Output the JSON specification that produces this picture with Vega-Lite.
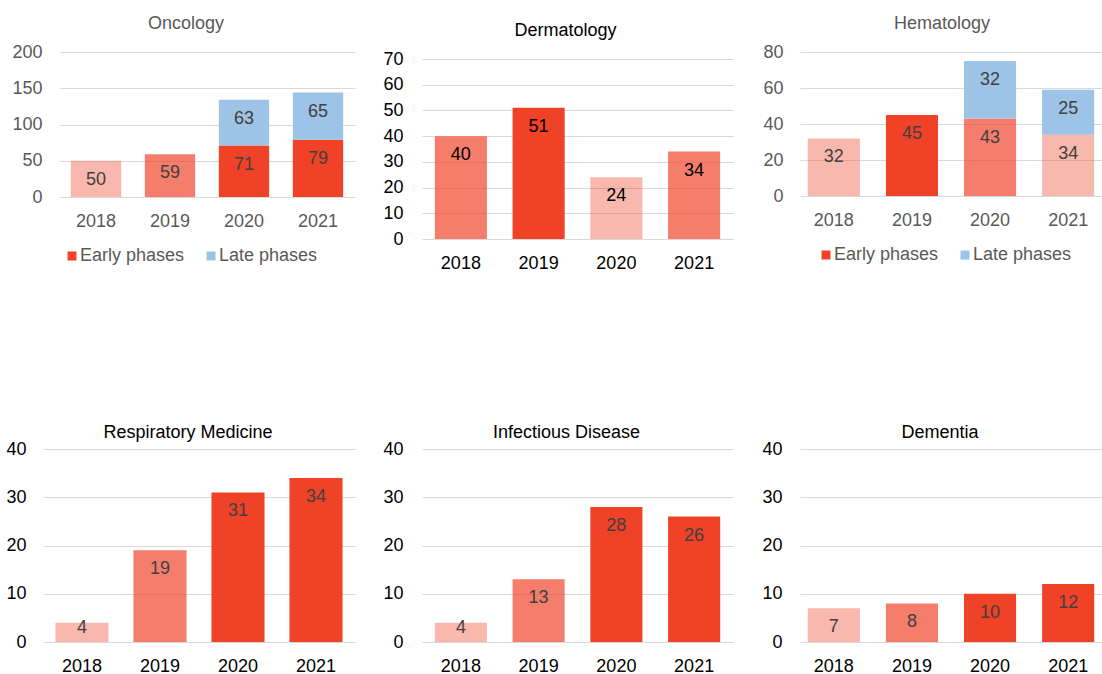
{
  "$schema": "https://vega.github.io/schema/vega-lite/v6.json",
  "padding": {"left": 5, "top": 15, "right": 0, "bottom": 0},
  "autosize": {"type": "pad"},
  "background": "white",
  "config": {
    "font": "Liberation Sans",
    "view": {"stroke": null},
    "axis": {"labelFont": "Liberation Sans", "labelFontSize": 18, "gridColor": "#D9D9D9", "gridWidth": 1, "domain": false, "ticks": false, "title": null},
    "axisX": {"grid": false, "labelAngle": 0, "labelPadding": 15},
    "axisY": {"labelPadding": 17},
    "title": {"font": "Liberation Sans", "fontSize": 18, "fontWeight": "normal", "anchor": "middle"},
    "legend": {"labelFont": "Liberation Sans", "labelFontSize": 18, "labelColor": "#595959", "symbolType": "square", "symbolSize": 81, "symbolStrokeWidth": 0, "symbolOpacity": 1, "labelOffset": -1, "columnPadding": 17, "orient": "bottom", "direction": "horizontal", "title": null}
  },
  "data": {"values": [
    {"panel": "Oncology", "year": "2018", "phase": "Early phases", "tier": "low", "value": 50},
    {"panel": "Oncology", "year": "2019", "phase": "Early phases", "tier": "mid", "value": 59},
    {"panel": "Oncology", "year": "2020", "phase": "Early phases", "tier": "high", "value": 71},
    {"panel": "Oncology", "year": "2020", "phase": "Late phases", "tier": "high", "value": 63},
    {"panel": "Oncology", "year": "2021", "phase": "Early phases", "tier": "high", "value": 79},
    {"panel": "Oncology", "year": "2021", "phase": "Late phases", "tier": "high", "value": 65},
    {"panel": "Dermatology", "year": "2018", "phase": "Early phases", "tier": "mid", "value": 40},
    {"panel": "Dermatology", "year": "2019", "phase": "Early phases", "tier": "high", "value": 51},
    {"panel": "Dermatology", "year": "2020", "phase": "Early phases", "tier": "low", "value": 24},
    {"panel": "Dermatology", "year": "2021", "phase": "Early phases", "tier": "mid", "value": 34},
    {"panel": "Hematology", "year": "2018", "phase": "Early phases", "tier": "low", "value": 32},
    {"panel": "Hematology", "year": "2019", "phase": "Early phases", "tier": "high", "value": 45},
    {"panel": "Hematology", "year": "2020", "phase": "Early phases", "tier": "mid", "value": 43},
    {"panel": "Hematology", "year": "2020", "phase": "Late phases", "tier": "high", "value": 32},
    {"panel": "Hematology", "year": "2021", "phase": "Early phases", "tier": "low", "value": 34},
    {"panel": "Hematology", "year": "2021", "phase": "Late phases", "tier": "high", "value": 25},
    {"panel": "Respiratory Medicine", "year": "2018", "phase": "Early phases", "tier": "low", "value": 4},
    {"panel": "Respiratory Medicine", "year": "2019", "phase": "Early phases", "tier": "mid", "value": 19},
    {"panel": "Respiratory Medicine", "year": "2020", "phase": "Early phases", "tier": "high", "value": 31},
    {"panel": "Respiratory Medicine", "year": "2021", "phase": "Early phases", "tier": "high", "value": 34},
    {"panel": "Infectious Disease", "year": "2018", "phase": "Early phases", "tier": "low", "value": 4},
    {"panel": "Infectious Disease", "year": "2019", "phase": "Early phases", "tier": "mid", "value": 13},
    {"panel": "Infectious Disease", "year": "2020", "phase": "Early phases", "tier": "high", "value": 28},
    {"panel": "Infectious Disease", "year": "2021", "phase": "Early phases", "tier": "high", "value": 26},
    {"panel": "Dementia", "year": "2018", "phase": "Early phases", "tier": "low", "value": 7},
    {"panel": "Dementia", "year": "2019", "phase": "Early phases", "tier": "mid", "value": 8},
    {"panel": "Dementia", "year": "2020", "phase": "Early phases", "tier": "high", "value": 10},
    {"panel": "Dementia", "year": "2021", "phase": "Early phases", "tier": "high", "value": 12}
  ]},
  "resolve": {"scale": {"fill": "independent", "fillOpacity": "independent"}, "legend": {"fill": "independent"}},
  "columns": 1,
  "spacing": 143,
  "concat": [
    {
      "hconcat": [
        {
          "width": 296, "height": 145,
          "title": {"text": "Oncology", "color": "#595959", "offset": 10, "dx": -21},
          "transform": [{"filter": "datum.panel === 'Oncology'"}],
          "encoding": {
            "x": {"field": "year", "type": "ordinal", "scale": {"paddingInner": 0.32, "paddingOuter": 0.16}, "axis": {"labelColor": "#595959"}},
            "y": {"field": "value", "type": "quantitative", "stack": "zero", "scale": {"domain": [0, 200], "nice": false}, "axis": {"values": [0, 50, 100, 150, 200], "labelColor": "#595959", "labelPadding": 17, "minExtent": 52}},
            "order": {"field": "phase"}
          },
          "layer": [
            {"mark": {"type": "bar"}, "encoding": {
              "fill": {"field": "phase", "type": "nominal", "scale": {"domain": ["Early phases", "Late phases"], "range": ["#EF4226", "#9DC3E6"]}, "legend": {"padding": 4, "offset": 13}},
              "fillOpacity": {"field": "tier", "type": "nominal", "scale": {"type": "ordinal", "domain": ["low", "mid", "high"], "range": [0.376, 0.683, 1]}, "legend": null}
            }},
            {"mark": {"type": "text", "baseline": "middle", "fontSize": 18, "color": "#404040", "dy": {"expr": "datum.value < 5 ? 5 : 19"}}, "encoding": {
              "text": {"field": "value", "type": "quantitative"},
              "detail": {"field": "phase"}
            }}
          ]
        },
        {
          "width": 311, "height": 187,
          "title": {"text": "Dermatology", "color": "#000000", "offset": 10, "dx": -12},
          "transform": [{"filter": "datum.panel === 'Dermatology'"}],
          "encoding": {
            "x": {"field": "year", "type": "ordinal", "scale": {"paddingInner": 0.33, "paddingOuter": 0.165}, "axis": {"labelColor": "#000000"}},
            "y": {"field": "value", "type": "quantitative", "stack": "zero", "scale": {"domain": [0, 70], "nice": false, "range": [187, 7]}, "axis": {"values": [0, 10, 20, 30, 40, 50, 60, 70], "labelColor": "#000000", "labelPadding": 19, "minExtent": 40}},
            "order": {"field": "phase"}
          },
          "layer": [
            {"mark": {"type": "bar"}, "encoding": {
              "fill": {"field": "phase", "type": "nominal", "scale": {"domain": ["Early phases", "Late phases"], "range": ["#EF4226", "#9DC3E6"]}, "legend": null},
              "fillOpacity": {"field": "tier", "type": "nominal", "scale": {"type": "ordinal", "domain": ["low", "mid", "high"], "range": [0.376, 0.683, 1]}, "legend": null}
            }},
            {"mark": {"type": "text", "baseline": "middle", "fontSize": 18, "color": "#000000", "dy": {"expr": "datum.value < 5 ? 5 : 19"}}, "encoding": {
              "text": {"field": "value", "type": "quantitative"},
              "detail": {"field": "phase"}
            }}
          ]
        },
        {
          "width": 302, "height": 144,
          "title": {"text": "Hematology", "color": "#595959", "offset": 10, "dx": -9},
          "transform": [{"filter": "datum.panel === 'Hematology'"}],
          "encoding": {
            "x": {"field": "year", "type": "ordinal", "scale": {"paddingInner": 0.333, "paddingOuter": 0.1}, "axis": {"labelColor": "#595959"}},
            "y": {"field": "value", "type": "quantitative", "stack": "zero", "scale": {"domain": [0, 80], "nice": false}, "axis": {"values": [0, 20, 40, 60, 80], "labelColor": "#595959", "labelPadding": 17, "minExtent": 40}},
            "order": {"field": "phase"}
          },
          "layer": [
            {"mark": {"type": "bar"}, "encoding": {
              "fill": {"field": "phase", "type": "nominal", "scale": {"domain": ["Early phases", "Late phases"], "range": ["#EF4226", "#9DC3E6"]}, "legend": {"padding": 17, "offset": 0}},
              "fillOpacity": {"field": "tier", "type": "nominal", "scale": {"type": "ordinal", "domain": ["low", "mid", "high"], "range": [0.376, 0.683, 1]}, "legend": null}
            }},
            {"mark": {"type": "text", "baseline": "middle", "fontSize": 18, "color": "#404040", "dy": {"expr": "datum.value < 5 ? 5 : 19"}}, "encoding": {
              "text": {"field": "value", "type": "quantitative"},
              "detail": {"field": "phase"}
            }}
          ]
        }
      ],
      "spacing": 67,
      "bounds": "flush",
      "resolve": {"scale": {"fill": "independent", "fillOpacity": "independent"}, "legend": {"fill": "independent"}}
    },
    {
      "hconcat": [
        {
          "width": 296, "height": 193,
          "title": {"text": "Respiratory Medicine", "color": "#000000", "offset": -2, "dx": -19},
          "transform": [{"filter": "datum.panel === 'Respiratory Medicine'"}],
          "encoding": {
            "x": {"field": "year", "type": "ordinal", "scale": {"paddingInner": 0.32, "paddingOuter": 0.16, "range": [-16, 296]}, "axis": {"labelColor": "#000000"}},
            "y": {"field": "value", "type": "quantitative", "stack": "zero", "scale": {"domain": [0, 40], "nice": false}, "axis": {"values": [0, 10, 20, 30, 40], "labelColor": "#000000", "labelPadding": 12, "offset": 21}},
            "order": {"field": "phase"}
          },
          "layer": [
            {"mark": {"type": "bar"}, "encoding": {
              "fill": {"field": "phase", "type": "nominal", "scale": {"domain": ["Early phases", "Late phases"], "range": ["#EF4226", "#9DC3E6"]}, "legend": null},
              "fillOpacity": {"field": "tier", "type": "nominal", "scale": {"type": "ordinal", "domain": ["low", "mid", "high"], "range": [0.376, 0.683, 1]}, "legend": null}
            }},
            {"mark": {"type": "text", "baseline": "middle", "fontSize": 18, "color": "#404040", "dy": {"expr": "datum.value < 5 ? 5 : 19"}}, "encoding": {
              "text": {"field": "value", "type": "quantitative"},
              "detail": {"field": "phase"}
            }}
          ]
        },
        {
          "width": 311, "height": 193,
          "title": {"text": "Infectious Disease", "color": "#000000", "offset": -2, "dx": -11},
          "transform": [{"filter": "datum.panel === 'Infectious Disease'"}],
          "encoding": {
            "x": {"field": "year", "type": "ordinal", "scale": {"paddingInner": 0.33, "paddingOuter": 0.165}, "axis": {"labelColor": "#000000"}},
            "y": {"field": "value", "type": "quantitative", "stack": "zero", "scale": {"domain": [0, 40], "nice": false}, "axis": {"values": [0, 10, 20, 30, 40], "labelColor": "#000000", "labelPadding": 19, "minExtent": 40}},
            "order": {"field": "phase"}
          },
          "layer": [
            {"mark": {"type": "bar"}, "encoding": {
              "fill": {"field": "phase", "type": "nominal", "scale": {"domain": ["Early phases", "Late phases"], "range": ["#EF4226", "#9DC3E6"]}, "legend": null},
              "fillOpacity": {"field": "tier", "type": "nominal", "scale": {"type": "ordinal", "domain": ["low", "mid", "high"], "range": [0.376, 0.683, 1]}, "legend": null}
            }},
            {"mark": {"type": "text", "baseline": "middle", "fontSize": 18, "color": "#404040", "dy": {"expr": "datum.value < 5 ? 5 : 19"}}, "encoding": {
              "text": {"field": "value", "type": "quantitative"},
              "detail": {"field": "phase"}
            }}
          ]
        },
        {
          "width": 302, "height": 193,
          "title": {"text": "Dementia", "color": "#000000", "offset": -2, "dx": -11},
          "transform": [{"filter": "datum.panel === 'Dementia'"}],
          "encoding": {
            "x": {"field": "year", "type": "ordinal", "scale": {"paddingInner": 0.333, "paddingOuter": 0.1}, "axis": {"labelColor": "#000000"}},
            "y": {"field": "value", "type": "quantitative", "stack": "zero", "scale": {"domain": [0, 40], "nice": false}, "axis": {"values": [0, 10, 20, 30, 40], "labelColor": "#000000", "labelPadding": 18, "minExtent": 40}},
            "order": {"field": "phase"}
          },
          "layer": [
            {"mark": {"type": "bar"}, "encoding": {
              "fill": {"field": "phase", "type": "nominal", "scale": {"domain": ["Early phases", "Late phases"], "range": ["#EF4226", "#9DC3E6"]}, "legend": null},
              "fillOpacity": {"field": "tier", "type": "nominal", "scale": {"type": "ordinal", "domain": ["low", "mid", "high"], "range": [0.376, 0.683, 1]}, "legend": null}
            }},
            {"mark": {"type": "text", "baseline": "middle", "fontSize": 18, "color": "#404040", "dy": {"expr": "datum.value < 5 ? 5 : 19"}}, "encoding": {
              "text": {"field": "value", "type": "quantitative"},
              "detail": {"field": "phase"}
            }}
          ]
        }
      ],
      "spacing": 67,
      "bounds": "flush",
      "resolve": {"scale": {"fill": "independent", "fillOpacity": "independent"}, "legend": {"fill": "independent"}}
    }
  ]
}
